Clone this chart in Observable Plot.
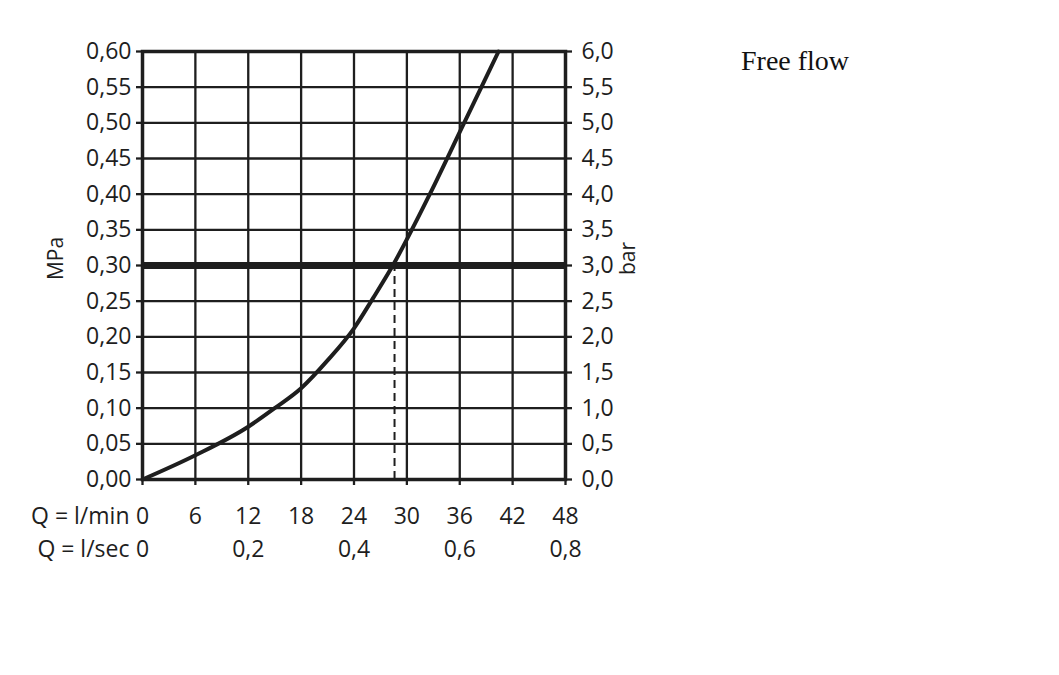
<!DOCTYPE html>
<html>
<head>
<meta charset="utf-8">
<script src="https://cdn.jsdelivr.net/npm/d3@7"></script>
<script src="https://cdn.jsdelivr.net/npm/@observablehq/plot@0.6"></script>
<style>
  body { margin: 0; background: #fff; }
  #wrap { position: relative; width: 1059px; height: 675px; }
  #title { position: absolute; left: 741px; top: 47px; font-family: "Liberation Serif", serif; font-size: 28px; line-height: 28px; color: #111; white-space: nowrap; }
  #chart { position: absolute; left: 0; top: 0; }
</style>
</head>
<body>
<div id="wrap">
  <div id="chart"></div>
  <div id="title">Free flow</div>
</div>
<script>
// Flow curve (Q in l/min vs pressure in MPa)
const flowLpm     = [0, 6, 12, 15, 18, 21, 24, 26.2, 28.4, 32.6, 36.5, 40.4];
const pressureMPa = [0, 0.034, 0.074, 0.10, 0.128, 0.167, 0.212, 0.255, 0.30, 0.40, 0.50, 0.60];

// Ticks and labels
const xTicks = [0, 6, 12, 18, 24, 30, 36, 42, 48];
const yTicks = [0, 0.05, 0.10, 0.15, 0.20, 0.25, 0.30, 0.35, 0.40, 0.45, 0.50, 0.55, 0.60];
const mpaLabels = ["0,00","0,05","0,10","0,15","0,20","0,25","0,30","0,35","0,40","0,45","0,50","0,55","0,60"];
const barLabels = ["0,0","0,5","1,0","1,5","2,0","2,5","3,0","3,5","4,0","4,5","5,0","5,5","6,0"];
const lsecTicks = [0, 12, 24, 36, 48];
const lsecLabels = ["0", "0,2", "0,4", "0,6", "0,8"];

// Operating point
const nominalPressure = 0.30;
const nominalFlow = 28.6;

const ink = "#1e1e1e";
const fs = 23;
const curveData = flowLpm.map((q, i) => ({q, p: pressureMPa[i]}));
const innerX = xTicks.slice(1, -1);
const innerY = yTicks.slice(1, -1);
const yIndex = v => yTicks.findIndex(t => Math.abs(t - v) < 1e-9);

const chart = Plot.plot({
  width: 1059,
  height: 675,
  marginLeft: 142,
  marginRight: 494,
  marginTop: 51,
  marginBottom: 196,
  style: { fontFamily: "'Open Sans', sans-serif", fontSize: fs + "px", color: ink, background: "#fff" },
  x: { domain: [0, 48] },
  y: { domain: [0, 0.6] },
  marks: [
    Plot.ruleX(innerX, { stroke: ink, strokeWidth: 2.3 }),
    Plot.ruleY(innerY, { stroke: ink, strokeWidth: 2.3 }),
    Plot.ruleX([nominalFlow], { y1: 0, y2: nominalPressure, stroke: ink, strokeWidth: 2, strokeDasharray: "8,5" }),
    Plot.ruleY([nominalPressure], { stroke: ink, strokeWidth: 7 }),
    Plot.line(curveData, { x: "q", y: "p", curve: "monotone-x", stroke: ink, strokeWidth: 4 }),
    Plot.frame({ stroke: ink, strokeWidth: 3.5 }),
    Plot.axisY(yTicks, { anchor: "left", tickSize: 6, tickPadding: 5, strokeWidth: 2.3, stroke: ink, fontSize: fs, label: null, tickFormat: d => mpaLabels[yIndex(d)] }),
    Plot.axisY(yTicks, { anchor: "right", tickSize: 6, tickPadding: 10, strokeWidth: 2.3, stroke: ink, fontSize: fs, label: null, tickFormat: d => barLabels[yIndex(d)] }),
    Plot.axisX(xTicks, { anchor: "bottom", tickSize: 6, tickPadding: 22, strokeWidth: 2.3, stroke: ink, fontSize: fs, label: null }),
    Plot.text(lsecLabels, { x: (d, i) => lsecTicks[i], text: d => d, frameAnchor: "bottom", dy: 77, fontSize: fs, fill: ink }),
    Plot.text(["Q = l/min"], { x: () => 0, text: d => d, frameAnchor: "bottom", dy: 44, dx: -13, textAnchor: "end", fontSize: fs, fill: ink }),
    Plot.text(["Q = l/sec"], { x: () => 0, text: d => d, frameAnchor: "bottom", dy: 77, dx: -13, textAnchor: "end", fontSize: fs, fill: ink }),
    Plot.text(["MPa"], { frameAnchor: "left", text: d => d, textAnchor: "middle", rotate: -90, dx: -86, dy: -7, fontSize: 21, fill: ink }),
    Plot.text(["bar"], { frameAnchor: "right", text: d => d, textAnchor: "middle", rotate: -90, dx: 63, dy: -7, fontSize: 21, fill: ink })
  ]
});
document.getElementById("chart").appendChild(chart);
</script>
</body>
</html>
